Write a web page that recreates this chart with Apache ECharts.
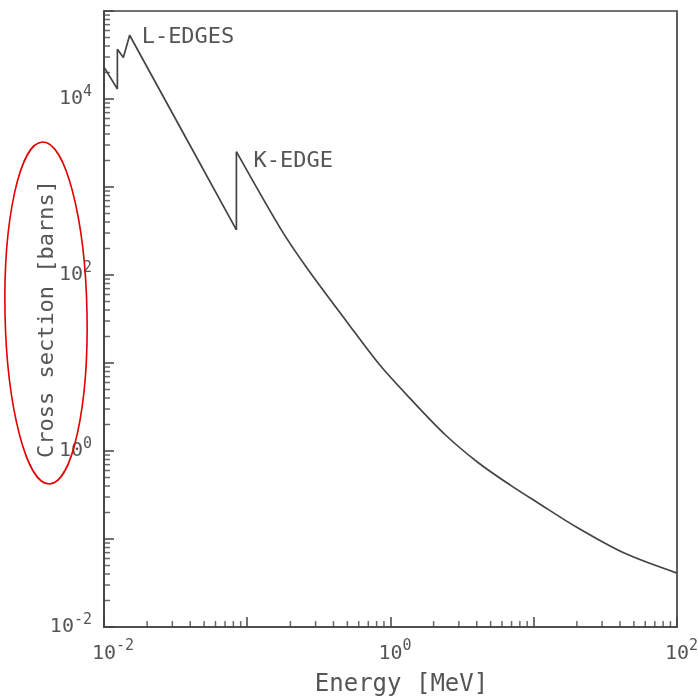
<!DOCTYPE html>
<html><head><meta charset="utf-8">
<script src="https://cdn.jsdelivr.net/npm/echarts@6/dist/echarts.min.js"></script>
<style>html,body{margin:0;padding:0;background:#fff}#c{width:698px;height:696px}</style>
</head><body><div id="c"></div>
<script>
// Photon cross section vs energy
// Part 1: low energy, L-edges and K-edge (straight segments, vertical jumps)
const energyEdges = [0.0100, 0.0124, 0.0124, 0.01365, 0.0151, 0.0352, 0.0840, 0.0840];
const sigmaEdges  = [23000, 13000, 36800, 29700, 53000, 4300, 325, 2520];
// Part 2: above the K-edge (smooth fall-off)
const energyHigh = [0.0840, 0.172, 0.264, 0.495, 0.834, 1.41, 2.41, 4.08, 6.9, 10.6, 20.1, 42.8, 100];
const sigmaHigh  = [2520, 330, 117, 29.5, 9.66, 3.76, 1.53, 0.741, 0.407, 0.260, 0.135, 0.0692, 0.0410];

const xDecades = [-2, -1, 0, 1];          // decades that carry minor ticks on x
const yDecades = [-2, -1, 0, 1, 2, 3, 4]; // decades that carry minor ticks on y
const minorMultipliers = [2, 3, 4, 5, 6, 7, 8, 9];
const X_MIN = 0.01, X_MAX = 100, Y_MIN = 0.01, Y_MAX = 1e5;

const edgeLabels = [
  { text: 'L-EDGES', coord: [0.0151, 53000], offset: [12, 2] },
  { text: 'K-EDGE',  coord: [0.0840, 2520],  offset: [17, 10] }
];

const INK = '#444444';
const TXT = '#555555';
const FONT = 'DejaVu Sans Mono';

const xMinor = [], yMinor = [];
xDecades.forEach(d => minorMultipliers.forEach(m => xMinor.push([+(m * Math.pow(10, d)).toPrecision(6), Y_MIN])));
yDecades.forEach(d => minorMultipliers.forEach(m => yMinor.push([X_MIN, +(m * Math.pow(10, d)).toPrecision(6)])));

function expLabel(v, withPad) {
  const e = Math.round(Math.log10(v));
  if (e % 2 !== 0) return '';
  const s = String(e);
  return (withPad ? '{h|' + s + '}' : '') + '{b|10}{s|' + s + '}';
}
const rich = {
  b: { fontSize: 20, color: TXT, fontFamily: FONT },
  s: { fontSize: 15, color: TXT, fontFamily: FONT, padding: [0, 0, 14, 0] },
  h: { fontSize: 15, color: 'rgba(0,0,0,0)', fontFamily: FONT, padding: [0, 0, 14, 0] }
};

const chart = echarts.init(document.getElementById('c'), null, { renderer: 'canvas' });
chart.setOption({
  animation: false,
  backgroundColor: '#fff',
  grid: { left: 104, right: 21, top: 11, bottom: 69, outerBoundsMode: 'none', containLabel: false,
          show: true, borderColor: INK, borderWidth: 1.7, backgroundColor: 'transparent' },
  xAxis: {
    type: 'log', logBase: 10, min: X_MIN, max: X_MAX, position: 'bottom',
    name: 'Energy [MeV]', nameLocation: 'middle', nameGap: 46, nameMoveOverlap: false,
    nameTextStyle: { fontSize: 24, color: TXT, fontFamily: FONT, padding: [0, 0, 0, 22], verticalAlign: 'top' },
    axisLine: { lineStyle: { color: INK, width: 1.7 } },
    axisTick: { inside: true, length: 10, lineStyle: { color: INK, width: 1.5 } },
    axisLabel: { margin: 12, formatter: v => expLabel(v, true), rich: rich, hideOverlap: false },
    splitLine: { show: false }
  },
  yAxis: {
    type: 'log', logBase: 10, min: Y_MIN, max: Y_MAX, position: 'left',
    name: 'Cross section [barns]', nameLocation: 'middle', nameGap: 46, nameMoveOverlap: false,
    nameTextStyle: { fontSize: 22, color: TXT, fontFamily: FONT },
    axisLine: { lineStyle: { color: INK, width: 1.7 } },
    axisTick: { inside: true, length: 10, lineStyle: { color: INK, width: 1.5 } },
    axisLabel: { margin: 12, formatter: v => expLabel(v, false), rich: rich, hideOverlap: false },
    splitLine: { show: false }
  },
  series: [
    {
      type: 'line', data: energyEdges.map((e, i) => [e, sigmaEdges[i]]),
      showSymbol: false, symbol: 'none', silent: true,
      lineStyle: { color: INK, width: 1.7 },
      markPoint: {
        symbol: 'circle', symbolSize: 0, silent: true,
        label: { show: true, position: 'right', distance: 0, color: TXT, fontSize: 22, fontFamily: FONT },
        data: edgeLabels.map(l => ({ coord: l.coord, value: l.text, label: { formatter: l.text, offset: l.offset } }))
      }
    },
    {
      type: 'line', data: energyHigh.map((e, i) => [e, sigmaHigh[i]]),
      showSymbol: false, symbol: 'none', silent: true, smooth: 0.3,
      lineStyle: { color: INK, width: 1.7 }
    },
    {
      // minor ticks on the energy axis (2..9 x 10^k), pointing into the plot
      type: 'scatter', data: xMinor, silent: true, clip: false, z: 4,
      symbol: 'rect', symbolSize: [1.5, 6], symbolOffset: [0, -3],
      itemStyle: { color: INK }
    },
    {
      // minor ticks on the cross-section axis
      type: 'scatter', data: yMinor, silent: true, clip: false, z: 4,
      symbol: 'rect', symbolSize: [6, 1.5], symbolOffset: [3, 0],
      itemStyle: { color: INK }
    }
  ],
  graphic: [
    { type: 'ellipse', shape: { cx: 46, cy: 313, rx: 41, ry: 171 }, rotation: 0.02, originX: 46, originY: 313,
      style: { fill: 'none', stroke: '#e00000', lineWidth: 1.6 }, silent: true, z: 10 }
  ]
});
</script></body></html>
